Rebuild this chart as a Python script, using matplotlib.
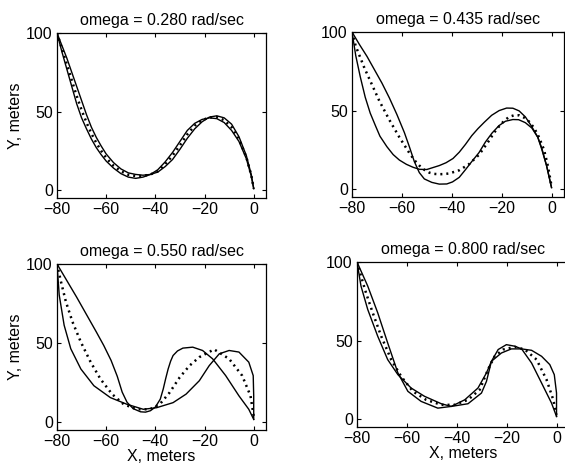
import numpy as np
import matplotlib
matplotlib.use("Agg")
import matplotlib.pyplot as plt

plt.rcParams['font.family'] = ['Liberation Sans', 'DejaVu Sans']

titles = ["omega = 0.280 rad/sec", "omega = 0.435 rad/sec",
          "omega = 0.550 rad/sec", "omega = 0.800 rad/sec"]
xticks = [-80, -60, -40, -20, 0]
yticks = [0, 50, 100]

# omega = 0.280
p1_a_x = [-80, -78, -76, -74, -72, -70, -68, -66, -64, -62, -60, -57, -54, -51, -48, -45, -42, -39, -36, -33,
          -30, -27, -24, -21, -18, -15, -12, -9, -6, -3, -1, 0]
p1_a_y = [100, 88, 77, 66, 55, 46, 39, 32.5, 27, 22.5, 18.5, 14, 10.5, 8.3, 7.5, 8.3, 10, 13, 18, 24,
          31, 38, 42.5, 45, 46, 45.5, 43, 38, 31, 20, 9, 1]
p1_b_x = [-80, -78, -76, -74, -72, -70, -68, -66, -64, -62, -60, -57, -54, -51, -48, -45, -42, -39, -36, -33,
          -30, -27, -24, -21, -18, -15, -12, -9, -6, -3, -1, 0]
p1_b_y = [100, 92, 84, 75, 66, 57, 48, 40, 33.5, 28, 23, 17.5, 13.5, 11, 10, 9.5, 10, 11.5, 15, 19.5,
          26, 33, 39, 43.5, 46.5, 47.3, 46, 42, 34, 22, 10, 1]
p1_d_x = [-80, -78, -76, -74, -72, -70, -68, -66, -64, -62, -60, -57, -54, -51, -48, -45, -42, -39, -36, -33,
          -30, -27, -24, -21, -18, -15, -12, -9, -6, -3, -1, 0]
p1_d_y = [100, 90, 80, 70, 60, 51, 43, 36, 30, 25, 20.5, 15.5, 12, 9.8, 9, 9, 10, 12, 16.5, 22,
          28.5, 35.5, 41, 44.5, 46.3, 46.5, 44.5, 40, 32.5, 21, 9.5, 1]

# omega = 0.435
p2_a_x = [-80, -77, -74, -71, -68, -65, -62, -59, -57, -55, -53, -51, -48, -45, -42, -39.7, -37, -34.4, -32,
          -29.1, -26.5, -23.8, -21, -18.5, -15.5, -13.2, -10.5, -7.9, -5.5, -3.9, -2, 0]
p2_a_y = [100, 92, 84.5, 76, 67.5, 58, 47.5, 36, 27, 17.5, 10.5, 6.5, 4.3, 3.2, 3.3, 4.6, 7.5, 12.6, 17.5,
          23.2, 30, 35.8, 40.5, 43.2, 44.3, 44.2, 42.3, 38.9, 33, 25.3, 15, 1]
p2_b_x = [-80, -78.5, -76.7, -74.7, -72.7, -70.5, -68.8, -66, -63.5, -61, -58.2, -55.5, -52.9, -50, -47.6,
          -45, -42.3, -39.5, -37, -34.5, -32, -29.5, -27, -24, -21, -18, -15.5, -13, -10.5, -8, -5.5,
          -3.9, -2, 0]
p2_b_y = [100, 85, 71.6, 58.5, 48.4, 40, 33.7, 27, 22, 18.5, 15.8, 13.9, 12.6, 12.5, 13.7,
          15, 16.8, 19.5, 23.5, 28.5, 34, 38.5, 42.5, 47, 50, 51.6, 51.5, 49.8, 46, 40, 33,
          26, 15, 1]
p2_d_x = [-80, -78.5, -77, -75, -73, -71, -69, -67, -65, -63, -61, -59, -57, -55, -53, -51, -49, -47, -45,
          -43, -41, -39, -37, -35, -33, -31, -29, -27, -25, -23, -21, -19, -17, -15, -13, -11, -9, -7,
          -5, -3, -1.5, 0]
p2_d_y = [100, 91, 85, 77, 70, 63, 56, 50, 44, 38.5, 33, 28, 23, 18.5, 15, 12.3, 10.5, 9.7, 9.5,
          9.6, 10, 11, 12, 14, 16, 19, 22, 26.5, 31, 36, 40, 43.5, 46, 47, 47, 45.5, 43, 39,
          33, 25, 15, 2]

# omega = 0.550
p3_a_x = [-80, -76, -72, -68, -64, -61, -58, -55.5, -53.5, -51.5, -49, -46, -44, -42, -40, -38, -36.8,
          -35.8, -34.8, -33.8, -32.8, -31, -28.8, -24.8, -20.8, -16.7, -11.4, -6, -2, 0]
p3_a_y = [100, 89.5, 79, 68, 57, 48.5, 39, 29, 19, 12.5, 8.5, 6.5, 6.3, 7.2, 9.5, 14.5, 20.9,
          27.5, 33.6, 38.5, 42.1, 45, 46.8, 47.4, 45.3, 40, 29.4, 16.6, 8.1, 1.7]
p3_b_x = [-80, -79.1, -77.1, -74.4, -70.3, -65, -58.3, -51.6, -44.9, -39.5, -32.8, -27.5, -22.1, -18.1,
          -14, -10, -6, -2, -0.2, 0, 0]
p3_b_y = [100, 80.4, 61.3, 46.4, 33.6, 23, 15.5, 11.3, 8.1, 9.1, 12.3, 17.7, 26.2, 35.7,
          43.2, 45.3, 44.3, 37.9, 29.4, 16.6, 1.7]
p3_d_x = [-80, -78.4, -76.4, -73.7, -70.3, -66.3, -62.3, -57.6, -52.9, -47.6, -42.2, -38.2, -34.2, -30.1,
          -26.1, -22.1, -16.1, -10, -4.7, -1.3, 0]
p3_d_y = [100, 88.9, 76.2, 63.4, 50.6, 37.9, 27.2, 17.7, 11.3, 8.1, 8.1, 11.3, 18.7, 28.3,
          35.7, 41.1, 46, 40, 29.4, 16.6, 3.8]

# omega = 0.800
p4_a_x = [-80, -75.7, -71.7, -67.7, -63.6, -59.6, -54.3, -47.6, -42.2, -36.8, -31.5, -28.1, -26.1, -23.4,
          -20.1, -16.7, -14, -10, -6, -2, 0]
p4_a_y = [100, 84.7, 67.7, 48.5, 29.4, 17.7, 11.3, 7, 8.1, 12.3, 19.8, 29.4, 36.8, 44.3,
          47.4, 46.4, 44.7, 35.7, 23, 10.2, 1.7]
p4_b_x = [-80, -78.4, -75.7, -71.7, -67.7, -63.6, -58.3, -52.9, -46.2, -42.2, -35.5, -30.1, -28.1, -26.1,
          -22.1, -18.1, -14, -10, -6, -2.7, -0.9, 0, 0]
p4_b_y = [100, 84.7, 69.8, 52.8, 37.9, 28.3, 19.8, 14.5, 9.8, 8.1, 9.8, 16.6, 24, 36.8,
          42.1, 44.7, 44.7, 43.8, 40, 34.7, 28.3, 16.6, 1.7]
p4_d_x = [-80, -78.4, -76.4, -73.7, -70.3, -66.3, -62.3, -57.6, -52.3, -46.2, -40.9, -35.5, -30.8, -27.5,
          -24.8, -21.4, -16.7, -12.7, -8, -4, -1.3, 0]
p4_d_y = [100, 91.1, 80.4, 67.7, 52.8, 37.9, 27.2, 17.7, 12.3, 9.1, 9.1, 12.3, 18.7, 31.5,
          40, 44.3, 46, 44.3, 37.9, 25.1, 12.3, 2.8]

panels = [
    (p1_a_x, p1_a_y, p1_b_x, p1_b_y, p1_d_x, p1_d_y),
    (p2_a_x, p2_a_y, p2_b_x, p2_b_y, p2_d_x, p2_d_y),
    (p3_a_x, p3_a_y, p3_b_x, p3_b_y, p3_d_x, p3_d_y),
    (p4_a_x, p4_a_y, p4_b_x, p4_b_y, p4_d_x, p4_d_y),
]

W, H = 565, 467
# axes frames in pixels: left, top, right, bottom
frames = [(57, 33, 266, 198), (352, 32, 564, 197),
          (57, 264, 266, 430), (357, 262, 569, 427)]

fig = plt.figure(figsize=(W / 100, H / 100), dpi=100)
fig.patch.set_facecolor('w')

for i in range(4):
    l, t, r, b = frames[i]
    ax = fig.add_axes([l / W, 1 - b / H, (r - l) / W, (b - t) / H])
    ax_, ay_, bx_, by_, dx_, dy_ = panels[i]
    ax.plot(ax_, ay_, color='k', lw=1.0, solid_joinstyle='round')
    ax.plot(bx_, by_, color='k', lw=1.0, solid_joinstyle='round')
    ax.plot(dx_, dy_, color='k', lw=1.8, linestyle=(0, (0.8, 1.6)))
    ax.set_xlim(-80, 5)
    ax.set_ylim(-5, 100)
    ax.set_xticks(xticks)
    ax.set_yticks(yticks)
    ax.tick_params(direction='in', top=True, right=True, length=3,
                   labelsize=11.5, pad=3, width=0.8)
    for s in ax.spines.values():
        s.set_linewidth(0.9)
    ax.set_title(titles[i], fontsize=11.5, pad=6)
    if i % 2 == 0:
        ax.set_ylabel("Y, meters", fontsize=11.5, labelpad=2)
    if i >= 2:
        ax.set_xlabel("X, meters", fontsize=11.5, labelpad=0)

plt.savefig("out.png", dpi=100)
plt.close()
